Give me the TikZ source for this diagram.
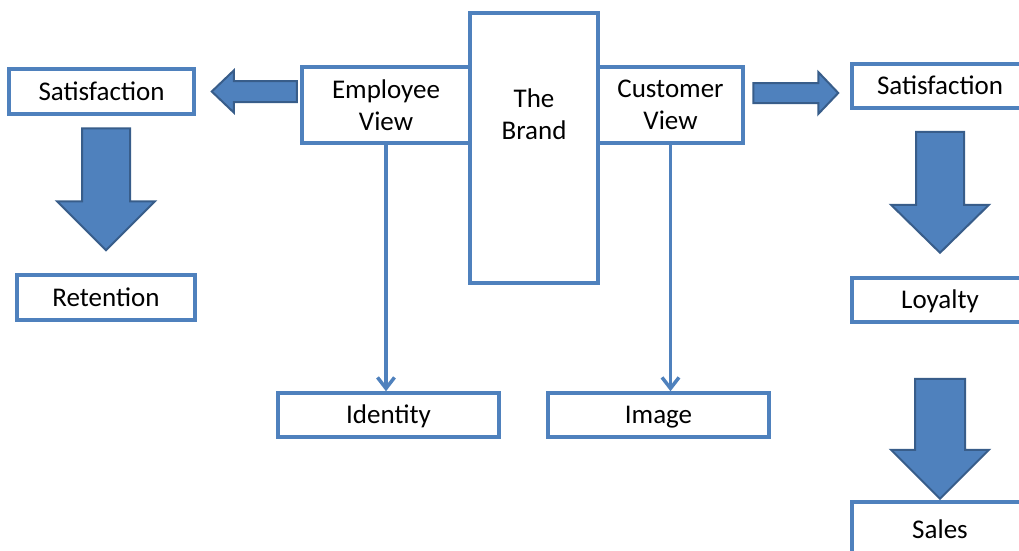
\documentclass[tikz,border=0pt]{standalone}
\usepackage{fontspec}
\setmainfont{Carlito}
\usetikzlibrary{arrows.meta}
\definecolor{boxblue}{RGB}{79,129,189}
\definecolor{arrowedge}{RGB}{56,93,138}

% block arrow: start, angle, length, shaft half width, head half width, head length
\newcommand\blockarrow[6]{%
  \draw[bigarrow, shift={#1}, rotate=#2]
    (0,-#4) -- ({#3-#6},-#4) -- ({#3-#6},-#5) -- (#3,0)
    -- ({#3-#6},#5) -- ({#3-#6},#4) -- (0,#4) -- cycle;}

\tikzset{
  box/.style={draw=boxblue, line width=3.5pt, fill=white, inner sep=0pt,
    font=\fontsize{27}{32}\selectfont, align=center},
  onerow/.style={text height=17pt, text depth=0pt},
  bigarrow/.style={fill=boxblue, draw=arrowedge, line width=2pt, line join=miter},
  thinarrow/.style={draw=boxblue, line width=3.5pt,
    -{Straight Barb[length=11pt,width=17pt]}}
}

\begin{document}
\begin{tikzpicture}[x=1pt, y=-1pt]
\clip (0,0) rectangle (1019,550);

% centre
\node[box, minimum width=128, minimum height=270] (brand) at (534,148) {};
\node[font=\fontsize{27}{32}\selectfont, align=center] (brandtxt)
  at ([yshift=-103pt]brand.north) {The\\Brand};
\node[box, minimum width=168, minimum height=76] (emp) at (386,105) {Employee\\View};
\node[box, minimum width=145, minimum height=76] (cust) at (670.5,105) {Customer\\View};

% bottom row
\node[box, onerow, minimum width=221, minimum height=44] (ident) at (388.5,415) {Identity};
\node[box, onerow, minimum width=221, minimum height=44] (img) at (658.5,415) {Image};

% employee side
\node[box, onerow, minimum width=185, minimum height=45] (satL) at (101.5,91.5) {Satisfaction};
\node[box, onerow, minimum width=178, minimum height=45] (ret) at (106,297.5) {Retention};

% customer side
\node[box, onerow, minimum width=176, minimum height=44] (satR) at (940,86) {Satisfaction};
\node[box, onerow, minimum width=176, minimum height=44] (loy) at (940,300) {Loyalty};
\node[box, onerow, minimum width=176, minimum height=56] (sales) at (940,530) {Sales};

% thin arrows
\draw[thinarrow] (emp.south) -- (emp.south |- ident.north);
\draw[thinarrow] (cust.south) -- (cust.south |- img.north);

% block arrows
\blockarrow{([xshift=101pt]satL.east)}{180}{85}{10.5}{21}{22}
\blockarrow{([xshift=-97pt,yshift=-7pt]satR.west)}{0}{85}{10}{21}{20}
\blockarrow{([yshift=145pt]ret.north)}{-90}{122}{24}{49}{49}
\blockarrow{([yshift=-22pt]satR.south)}{-90}{121}{24}{49}{48}
\blockarrow{([yshift=-55pt]loy.south)}{-90}{120}{25}{49}{49}
\end{tikzpicture}
\end{document}
